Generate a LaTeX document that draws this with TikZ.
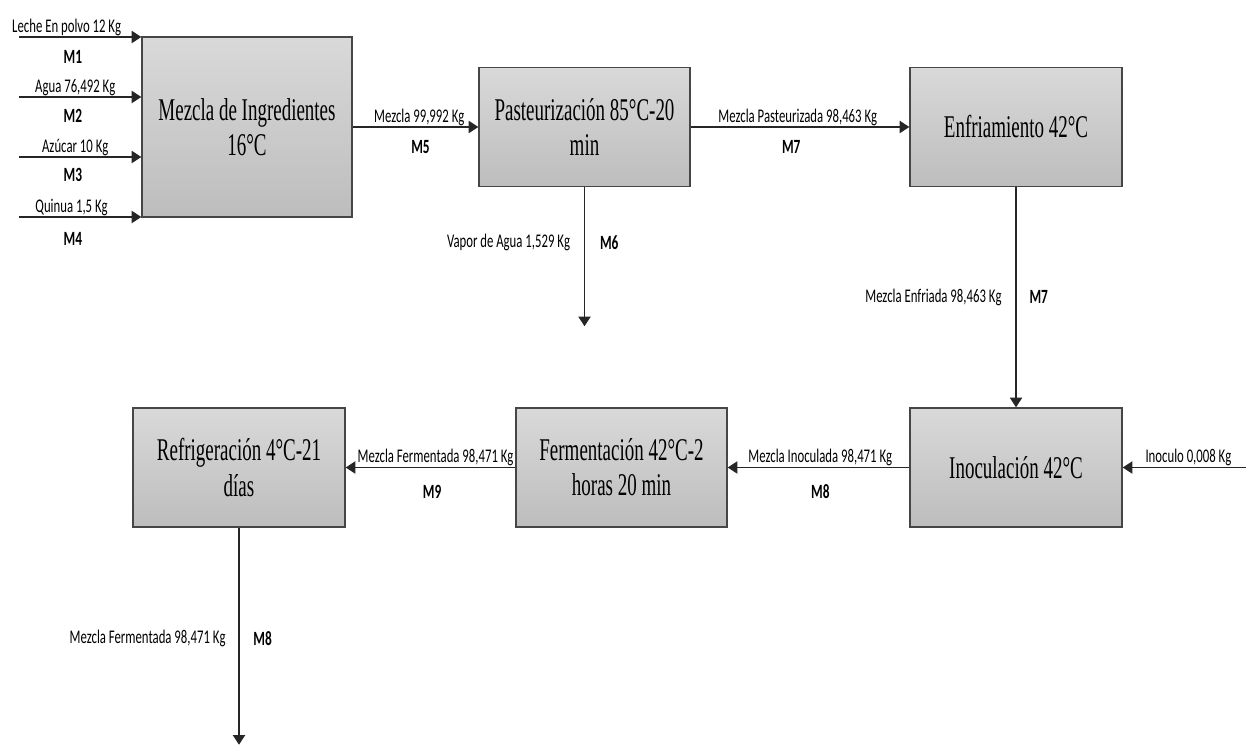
\documentclass[tikz,border=0pt]{standalone}
\usepackage{fontspec}
\usetikzlibrary{positioning}
\usetikzlibrary{arrows.meta}
\newfontfamily\lblfont[FakeStretch=0.66]{Carlito}
\newfontfamily\boxfont[FakeStretch=0.6]{Liberation Serif}
\definecolor{boxtop}{RGB}{217,217,217}
\definecolor{boxbot}{RGB}{189,189,189}
\definecolor{edgegray}{RGB}{70,70,70}
\tikzset{ % looks of the process boxes and the flows
  procbox/.style={draw=edgegray, line width=0.8pt, top color=boxtop, bottom color=boxbot,
    align=center, inner sep=2pt, font=\boxfont\fontsize{18}{20}\selectfont},
  flow/.style={draw=black!85, line width=0.7pt, -{Triangle[length=5.5pt,width=7pt]}},
  lbl/.style={font=\lblfont\fontsize{11}{12}\selectfont, inner sep=0.5pt},
  mlbl/.style={font=\lblfont\bfseries\fontsize{11.5}{12}\selectfont, inner sep=0.5pt}
}

\begin{document}
\begin{tikzpicture}
\useasboundingbox (0,0) rectangle (24.92,-14.9);

% process boxes
\node[procbox, minimum width=4.2cm, minimum height=3.6cm] (mezcla) at (4.94,-2.54) {Mezcla de Ingredientes\\16°C};
\node[procbox, minimum width=4.22cm, minimum height=2.38cm] (pasteur) at (11.69,-2.54) {Pasteurización 85°C-20\\min};
\node[procbox, minimum width=4.24cm, minimum height=2.38cm] (enfri) at (20.32,-2.54) {Enfriamiento 42°C};
\node[procbox, minimum width=4.24cm, minimum height=2.38cm] (inocul) at (20.32,-9.35) {Inoculación 42°C};
\node[procbox, minimum width=4.22cm, minimum height=2.38cm] (ferment) at (12.43,-9.35) {Fermentación 42°C-2\\horas 20 min};
\node[procbox, minimum width=4.24cm, minimum height=2.38cm] (refrig) at (4.78,-9.35) {Refrigeración 4°C-21\\días};

% free ends of the flows
\coordinate (in1) at (0.38,-0.74);
\coordinate (in2) at (0.38,-1.94);
\coordinate (in3) at (0.38,-3.14);
\coordinate (in4) at (0.38,-4.34);
\coordinate[below=2.78cm of pasteur.south] (vaporend);
\coordinate[below=4.34cm of refrig.south] (salida);
\coordinate[right=2.48cm of inocul.east] (inoculo);

% inputs
\draw[flow] (in1) -- (mezcla.west |- in1)
  node[lbl, above, pos=0.39] (lleche) {Leche En polvo 12 Kg}
  node[mlbl, pos=0.44, yshift=-0.4cm] (lm1) {M1};
\draw[flow] (in2) -- (mezcla.west |- in2)
  node[lbl, above, pos=0.46] (lagua) {Agua 76,492 Kg}
  node[mlbl, pos=0.44, yshift=-0.38cm] (lm2) {M2};
\draw[flow] (in3) -- (mezcla.west |- in3)
  node[lbl, above, pos=0.46] (lazucar) {Azúcar 10 Kg}
  node[mlbl, pos=0.44, yshift=-0.36cm] (lm3) {M3};
\draw[flow] (in4) -- (mezcla.west |- in4)
  node[lbl, above, pos=0.43] (lquinua) {Quinua 1,5 Kg}
  node[mlbl, pos=0.44, yshift=-0.44cm] (lm4) {M4};

% main line
\draw[flow] (mezcla.east) -- (pasteur.west)
  node[lbl, above, pos=0.53] (lmezcla) {Mezcla 99,992 Kg}
  node[mlbl, pos=0.54, yshift=-0.4cm] (lm5) {M5};
\draw[flow] (pasteur.south) -- (vaporend)
  node[lbl, left=0.26cm, pos=0.4] (lvapor) {Vapor de Agua 1,529 Kg}
  node[mlbl, right=0.28cm, pos=0.4] (lm6) {M6};
\draw[flow] (pasteur.east) -- (enfri.west)
  node[lbl, above, pos=0.49] (lpast) {Mezcla Pasteurizada 98,463 Kg}
  node[mlbl, pos=0.46, yshift=-0.4cm] (lm7) {M7};
\draw[flow] (enfri.south) -- (inocul.north)
  node[lbl, left=0.26cm, pos=0.5] (lenfr) {Mezcla Enfriada 98,463 Kg}
  node[mlbl, right=0.24cm, pos=0.5] (lm7b) {M7};
\draw[flow] (inoculo) -- (inocul.east)
  node[lbl, above, pos=0.47] (linoculo) {Inoculo 0,008 Kg};
\draw[flow] (inocul.west) -- (ferment.east)
  node[lbl, above, pos=0.49] (linoc) {Mezcla Inoculada 98,471 Kg}
  node[mlbl, pos=0.49, yshift=-0.48cm] (lm8) {M8};
\draw[flow] (ferment.west) -- (refrig.east)
  node[lbl, above, pos=0.47] (lferm) {Mezcla Fermentada 98,471 Kg}
  node[mlbl, pos=0.49, yshift=-0.48cm] (lm9) {M9};
\draw[flow] (refrig.south) -- (salida)
  node[lbl, left=0.24cm, pos=0.51] (lsal) {Mezcla Fermentada 98,471 Kg}
  node[mlbl, right=0.26cm, pos=0.51] (lm8b) {M8};
\end{tikzpicture}
\end{document}
